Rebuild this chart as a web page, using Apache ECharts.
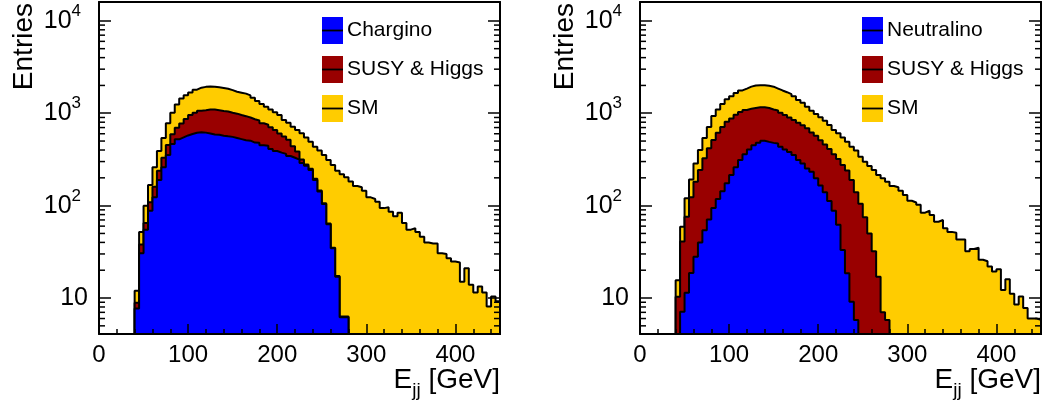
<!DOCTYPE html>
<html><head><meta charset="utf-8">
<script src="https://cdn.jsdelivr.net/npm/echarts@6/dist/echarts.min.js"></script>
<style>html,body{margin:0;padding:0;background:#fff}#c{width:1045px;height:408px}</style>
</head><body><div id="c"></div>
<script>
// ---------- data (5 GeV bins, lower edges) ----------
const binLow = [40,45,50,55,60,65,70,75,80,85,90,95,100,105,110,115,120,125,130,135,140,145,150,155,160,165,170,175,180,185,190,195,200,205,210,215,220,225,230,235,240,245,250,255,260,265,270,275,280,285,290,295,300,305,310,315,320,325,330,335,340,345,350,355,360,365,370,375,380,385,390,395,400,405,410,415,420,425,430,435,440,445];
const binWidth = 5;

const leftChargino = [7.7,30.6,55,88,123,190,260,353,464,522,
  548,575,596,615,622,617,605,590,585,572,
  563,555,540,525,510,505,481,478,450,445,
  410,390,375,363,345,330,315,290,270,243,
  190,142,104,63,34.5,17,6.2,6.2,
  0,0,0,0,0,0,0,0,0,0,0,0,0,0,0,0,0,0,0,0,0,0,0,0,0,0,0,0,0,0,0,0,0,0];
const leftSusyHiggs = [1.2,7.4,10,21,37,49,70,100,130,175,
  225,290,361,397,443,463,495,505,495,488,
  482,457,450,432,420,395,379,357,330,305,
  295,268,230,197,170,110,70,25,8,7,
  5,4,2,1,0.5,0.3,0.1,0.1,
  0,0,0,0,0,0,0,0,0,0,0,0,0,0,0,0,0,0,0,0,0,0,0,0,0,0,0,0,0,0,0,0,0,0];
const leftSM = [3.1,14,35,58,100,151,210,325,416,543,
  667,705,723,788,825,850,850,845,830,820,
  795,768,720,713,700,660,610,525,477,425,
  396,365,352,284,274,274,273,292,270,242,
  240,248,247,248,240,222,212,197,
  182,163,158,145,123,118,110,94,96,86,77,84,65,55,57,52,46,40,39,39,30.5,30,27,24.8,24.2,15,21,13.9,11.5,13.3,11.5,8.1,10.4,9.2];

const rightNeutralino = [0,7.1,11.4,18.7,28,40,54,71,94,118,
  143,175,215,260,311,360,405,450,478,503,
  490,478,470,433,405,380,353,312,286,253,
  233,198,165,140,112,88,62,33,18.5,9.1,
  5.8,
  0,0,0,0,0,0,0,0,0,0,0,0,0,0,0,0,0,0,0,0,0,0,0,0,0,0,0,0,0,0,0,0,0,0,0,0,0,0,0,0,0];
const rightSusyHiggs = [10.3,33.9,64.6,104.3,153,203,271,346,419,498,
  567,635,665,703,719,725,715,690,682,657,
  650,622,600,582,550,520,492,478,454,437,
  387,372,345,320,298,272,258,242,221.5,180.9,
  134.2,105,75,50,32,17,7,5.8,
  0,0,0,0,0,0,0,0,0,0,0,0,0,0,0,0,0,0,0,0,0,0,0,0,0,0,0,0,0,0,0,0,0,0];
const rightSM = [5.3,18,44,69,105,157,215,293,422,484,
  550,605,650,697,735,765,820,860,850,850,
  840,840,780,750,735,710,685,600,560,487,
  445,410,393,370,336,297,286,273,252,243,
  254,234,224,219,211,198,191,176,
  163,158,145,130,113,108,102,84,88,79,67,70,57,52,51,43,43,32,34,35,26,25,22,19.4,20.5,12.2,16,11.1,8.5,10.4,7.8,6,6,5.8];

const leftNames = ['Chargino','SUSY & Higgs','SM'];
const rightNames = ['Neutralino','SUSY & Higgs','SM'];
const colors = ['#0000ff','#990000','#ffcc00'];
const xTickValues = [0,100,200,300,400];
const yTickValues = [10,100,1000,10000];
const yMinorValues = [5,6,7,8,9,20,30,40,50,60,70,80,90,200,300,400,500,600,700,800,900,2000,3000,4000,5000,6000,7000,8000,9000];
const X_MIN = 0, X_MAX = 450, Y_MIN = 4.08, Y_MAX = 16000;

// ---------- helpers ----------
const FONT = '"Liberation Sans", Arial, Helvetica, sans-serif';
const FLOOR = 1; // below the axis minimum: makes the outline drop out of view

function stackTops(parts) {
  const tops = []; let acc = binLow.map(() => 0);
  parts.forEach(p => { acc = acc.map((a, i) => a + p[i]); tops.push(acc.slice()); });
  return tops;
}
function stepData(vals) {
  let f = -1, l = -1;
  vals.forEach((v, i) => { if (v > 0) { if (f < 0) f = i; l = i; } });
  const pts = [[binLow[f], FLOOR]];
  for (let i = f; i <= l; i++) pts.push([binLow[i], vals[i] > 0 ? vals[i] : FLOOR]);
  pts.push([binLow[l] + binWidth, FLOOR]);
  return pts;
}
function yLabel(v) {
  const e = Math.round(Math.log10(v));
  const p = Math.pow(10, e);
  if (!yTickValues.includes(p) || Math.abs(v / p - 1) > 1e-3) return '';
  if (e === 1) return '{b|10}';
  return '{b|10}{s|' + e + '}';
}

const xAxis = [], yAxis = [], series = [], grid = [], graphic = [];
const panels = [
  {left: 99, parts: [leftChargino, leftSusyHiggs, leftSM], names: leftNames, legX: 322, titleX: 500, entriesX: 24},
  {left: 640, parts: [rightNeutralino, rightSusyHiggs, rightSM], names: rightNames, legX: 862, titleX: 1041, entriesX: 565}
];

panels.forEach((p, g) => {
  grid.push({left: p.left, top: 2, width: 401, height: 332, containLabel: false});
  const xi = xAxis.length, yi = yAxis.length;
  xAxis.push(
    {gridIndex: g, type: 'value', position: 'bottom', min: X_MIN, max: X_MAX, interval: 100, z: 10,
     axisLine: {show: true, onZero: false, lineStyle: {color: '#000', width: 2}},
     axisTick: {show: true, inside: true, length: 10, lineStyle: {color: '#000', width: 1.5}},
     axisLabel: {show: true, color: '#000', fontSize: 24, fontFamily: FONT, margin: 9, showMaxLabel: false,
                 formatter: v => xTickValues.includes(v) ? String(v) : ''},
     splitLine: {show: false}},
    {gridIndex: g, type: 'value', position: 'bottom', min: X_MIN, max: X_MAX, interval: 20, z: 10,
     axisLine: {show: false}, axisTick: {show: true, inside: true, length: 5, lineStyle: {color: '#000', width: 1.5}},
     axisLabel: {show: false}, splitLine: {show: false}},
    {gridIndex: g, type: 'value', position: 'top', min: X_MIN, max: X_MAX, interval: 100, z: 10,
     axisLine: {show: true, onZero: false, lineStyle: {color: '#000', width: 2}},
     axisTick: {show: false}, axisLabel: {show: false}, splitLine: {show: false}}
  );
  yAxis.push(
    {gridIndex: g, type: 'log', logBase: 10, position: 'left', min: Y_MIN, max: Y_MAX, z: 10,
     axisLine: {show: true, onZero: false, lineStyle: {color: '#000', width: 2}},
     axisTick: {show: true, inside: true, length: 12, lineStyle: {color: '#000', width: 1.5}},
     axisLabel: {show: true, margin: 11, color: '#000', formatter: yLabel,
       rich: {b: {fontSize: 25, fontFamily: FONT, color: '#000', lineHeight: 36},
              s: {fontSize: 17, fontFamily: FONT, color: '#000', verticalAlign: 'top', padding: [0, 7, 0, 0]}}},
     splitLine: {show: false}},
    {gridIndex: g, type: 'log', logBase: 10, position: 'right', min: Y_MIN, max: Y_MAX, z: 10,
     axisLine: {show: true, onZero: false, lineStyle: {color: '#000', width: 2}},
     axisTick: {show: true, inside: true, length: 12, lineStyle: {color: '#000', width: 1.5}},
     axisLabel: {show: false}, splitLine: {show: false}}
  );
  const tops = stackTops(p.parts); // [signal, signal+susy, total]
  for (let k = 2; k >= 0; k--) {
    series.push({
      type: 'line', name: p.names[k], xAxisIndex: xi, yAxisIndex: yi,
      data: stepData(tops[k]), step: 'end', symbol: 'none', clip: true,
      lineStyle: {color: '#000', width: 2}, areaStyle: {color: colors[k], opacity: 1, origin: 'start'},
      z: 2 + (2 - k), silent: true, animation: false
    });
  }
  // log-axis minor ticks on left and right frame edges
  series.push({
    type: 'custom', xAxisIndex: xi, yAxisIndex: yi, z: 12, silent: true, animation: false,
    data: yMinorValues.map(v => [X_MIN, v]),
    renderItem: (params, api) => {
      const v = api.value(1);
      const l = api.coord([X_MIN, v]), r = api.coord([X_MAX, v]);
      return {type: 'group', children: [
        {type: 'line', shape: {x1: l[0], y1: l[1], x2: l[0] + 6, y2: l[1]}, style: {stroke: '#000', lineWidth: 1.5}},
        {type: 'line', shape: {x1: r[0] - 6, y1: r[1], x2: r[0], y2: r[1]}, style: {stroke: '#000', lineWidth: 1.5}}
      ]};
    }
  });
  // legend (ROOT style: filled box with a line through)
  const rowTop = [17, 56, 95];
  p.names.forEach((n, k) => {
    const y0 = rowTop[k];
    graphic.push(
      {type: 'rect', shape: {x: p.legX, y: y0, width: 21, height: 27}, style: {fill: colors[k]}, z: 20},
      {type: 'line', shape: {x1: p.legX, y1: y0 + 13.5, x2: p.legX + 21, y2: y0 + 13.5}, style: {stroke: '#000', lineWidth: 1.8}, z: 21},
      {type: 'text', x: p.legX + 25, y: y0 + 13, z: 21,
       style: {text: n, fontSize: 21, fontFamily: FONT, fill: '#000', align: 'left', verticalAlign: 'middle'}}
    );
  });
  graphic.push(
    {type: 'text', x: p.entriesX, y: 3, rotation: Math.PI / 2, z: 21,
     style: {text: 'Entries', fontSize: 28, fontFamily: FONT, fill: '#000', align: 'right', verticalAlign: 'middle'}},
    {type: 'text', x: p.titleX, y: 380, z: 21,
     style: {text: '{a|E}{s|jj}{a| [GeV]}', fill: '#000', align: 'right', verticalAlign: 'middle',
       rich: {a: {fontSize: 28, fontFamily: FONT, lineHeight: 40}, s: {fontSize: 19, fontFamily: FONT, verticalAlign: 'bottom'}}}}
  );
});

const chart = echarts.init(document.getElementById('c'), null, {renderer: 'canvas'});
chart.setOption({animation: false, backgroundColor: '#fff', textStyle: {fontFamily: FONT},
  grid, xAxis, yAxis, series, graphic});
</script>
</body></html>
